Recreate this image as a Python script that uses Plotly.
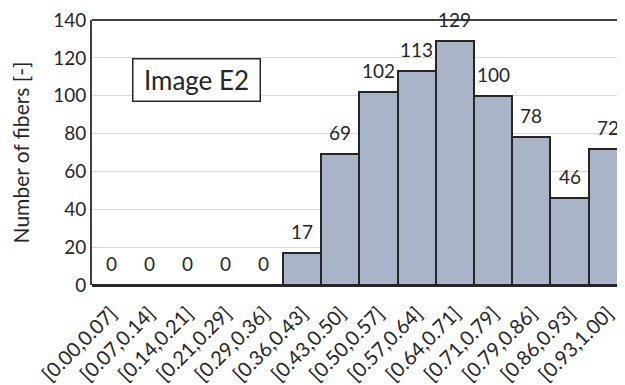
import plotly.graph_objects as go

categories = ["[0.00,0.07]", "[0.07,0.14]", "[0.14,0.21]", "[0.21,0.29]", "[0.29,0.36]",
              "[0.36,0.43]", "[0.43,0.50]", "[0.50,0.57]", "[0.57,0.64]", "[0.64,0.71]",
              "[0.71,0.79]", "[0.79,0.86]", "[0.86,0.93]", "[0.93,1.00]"]
counts = [0, 0, 0, 0, 0, 17, 69, 102, 113, 129, 100, 78, 46, 72]
y_ticks = [0, 20, 40, 60, 80, 100, 120, 140]

FONT = "Lato"
fig = go.Figure(go.Bar(
    x=categories, y=counts,
    marker=dict(color="#A9B4C8", line=dict(color="#262626", width=2)),
    hoverinfo="skip",
))

for c, v in zip(categories, counts):
    fig.add_annotation(x=c, y=v, text=str(v), showarrow=False, yanchor="bottom",
                       yshift=8, font=dict(family=FONT, size=19, color="#262626"))

fig.add_annotation(xref="paper", yref="paper", x=0.317, y=0.857, text="Image E2",
                   showarrow=False, xanchor="right", yanchor="top",
                   width=126, height=41, bordercolor="#262626", borderwidth=1.5,
                   borderpad=0, bgcolor="white",
                   font=dict(family=FONT, size=26, color="#262626"))

fig.add_shape(type="line", xref="paper", yref="paper", x0=0, x1=1, y0=1, y1=1,
              line=dict(color="#404040", width=2))

fig.update_layout(
    width=617, height=377,
    margin=dict(l=84, r=0, t=12, b=100, autoexpand=False),
    paper_bgcolor="white", plot_bgcolor="white",
    bargap=0, showlegend=False,
    font=dict(family=FONT, color="#262626"),
    xaxis=dict(type="category", tickangle=-45, tickfont=dict(size=20, family=FONT),
               showline=False, ticks="", showgrid=False, range=[-0.5, 13.45],
               automargin=False, ticklabelstandoff=12, ticklabeloverflow="allow"),
    yaxis=dict(range=[0, 140], tickvals=y_ticks, tickfont=dict(size=19, family=FONT),
               showgrid=True, gridcolor="#D9D9D9", gridwidth=1,
               showline=True, linecolor="#404040", linewidth=2, ticks="",
               zeroline=True, zerolinecolor="#262626", zerolinewidth=3,
               automargin=False, ticklabeloverflow="allow",
               title=dict(text="Number of fibers [-]", font=dict(size=21, family=FONT),
                          standoff=19)),
)

fig.write_html("out.html")
